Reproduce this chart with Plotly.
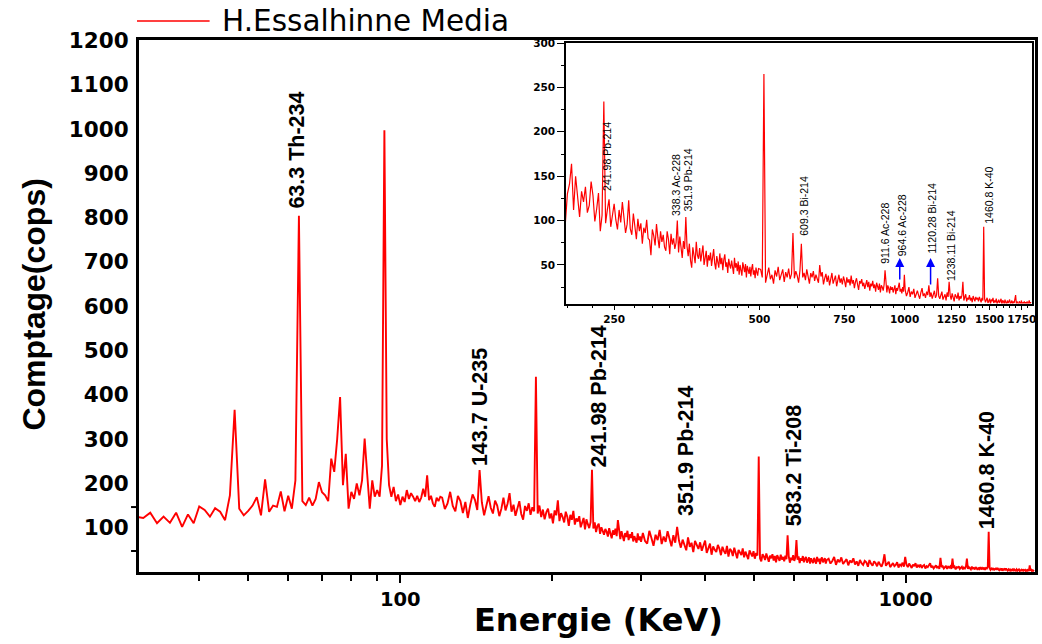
import numpy as np
import plotly.graph_objects as go

# ---------------- main spectrum (energy grid in keV, counts) ----------------
e_seg1 = np.arange(30, 121, 1.0)      # 30 .. 120
e_seg2 = np.arange(121, 300, 1.5)     # 121 .. 299.5
e_seg3 = np.arange(302, 699, 3.0)     # 302 .. 698
e_seg4 = np.arange(704, 1799, 6.0)    # 704 .. 1796

c_seg1 = [125,122,134,110,125,111,134,102,130,110,
          148,140,125,144,136,117,173,366,143,128,
          138,150,169,128,209,136,150,147,182,137,
          172,143,207,804,160,151,168,150,165,203,
          180,173,160,256,226,300,395,196,267,143,
          181,165,200,173,207,301,220,143,207,170,
          185,170,240,997,300,196,170,192,160,175,
          151,170,158,185,165,178,170,160,172,158,
          168,188,170,218,162,172,155,147,168,160,170]

c_seg2 = [168,142,155,181,149,137,172,160,133,158,
          122,151,175,163,140,230,157,128,149,171,
          145,132,161,150,126,143,168,139,154,178,
          136,152,127,145,160,131,118,149,138,155,
          129,146,137,441,132,150,124,141,119,135,
          143,121,132,110,139,128,162,115,133,124,
          112,136,125,104,129,118,138,107,121,114,
          126,101,115,122,96,119,108,99,113,231,
          98,112,90,104,109,86,101,93,84,97,
          91,80,99,87,76,94,84,98,81,117,
          86,74,92,83,70,88,79,93,72,85,
          77,90,69,81,74,66,87,72,80,68]

c_seg3 = [88,70,64,93,77,59,84,72,95,63,
          80,68,92,74,58,83,66,102,71,55,
          73,61,49,78,57,66,45,70,59,52,
          67,48,60,71,43,56,64,39,58,50,
          45,61,53,38,57,47,41,59,35,52,
          48,36,55,43,31,50,45,38,53,33,
          46,39,29,49,41,35,47,30,43,37,
          261,31,24,40,35,27,42,33,23,37,
          31,40,26,36,22,38,33,25,39,28,
          34,24,37,29,83,36,21,32,27,38,
          25,33,72,28,35,20,31,26,36,22,
          30,34,21,28,33,19,31,25,20,32,
          27,19,34,24,30,18,29,33,22,26,
          31,19,27]

c_seg4 = [30,19,25,34,16,28,22,33,18,24,
          29,15,26,21,31,17,24,14,27,20,
          16,25,22,12,27,19,14,24,20,13,
          23,17,12,21,40,14,19,23,11,17,
          20,13,16,22,10,18,14,21,12,34,
          16,11,19,14,9,17,13,20,10,15,
          12,17,9,14,16,8,13,11,15,20,
          10,14,8,12,15,9,13,7,32,11,
          13,8,11,14,7,12,10,13,7,30,
          9,12,6,11,10,13,7,9,12,6,
          10,8,12,30,7,11,9,6,12,8,
          9,6,11,8,5,10,7,11,6,9,
          7,10,5,9,8,12,91,9,5,8,
          6,9,4,7,8,5,9,6,4,7,
          5,8,3,6,7,4,8,5,3,6,
          4,7,3,5,6,2,6,4,3,6,
          3,5,6,2,4,5,2,6,3,4,
          5,2,4,3,6,2,15,3,5,2,
          4,3,2]

# ---------------- inset spectrum ----------------
i_seg1 = np.arange(196, 500, 2.0)     # 196 .. 498
i_seg2 = np.arange(503, 1000, 4.0)    # 503 .. 999
i_seg3 = np.arange(1003, 1832, 6.0)   # 1003 .. 1831

ic_seg1 = [118,96,130,141,164,112,150,126,104,133,
           121,138,109,117,144,128,99,113,131,88,
           106,234,97,112,124,93,108,119,101,90,
           112,98,121,104,86,96,123,91,84,108,
           95,79,102,88,97,74,92,86,101,80,
           78,61,90,83,72,96,81,69,88,76,
           84,70,66,88,79,62,85,73,80,68,
           75,100,64,82,70,58,77,68,104,71,
           60,74,55,47,70,63,52,76,61,57,
           69,54,63,72,50,58,66,48,61,55,
           64,49,57,68,52,45,60,55,47,63,
           51,58,44,56,62,48,53,41,57,50,
           46,55,49,40,58,47,52,43,54,39,
           50,45,38,53,47,42,51,36,49,44,
           40,48,37,46,51,39,44,35,47,42,
           38,46]

ic_seg2 = [45,36,265,30,41,47,34,39,29,44,
           37,48,33,40,45,31,42,36,46,34,
           40,86,35,43,38,30,44,74,36,41,
           33,45,38,29,41,36,43,32,39,35,
           30,50,37,42,28,35,40,31,38,27,
           36,41,29,34,38,26,33,39,30,35,
           28,37,32,25,36,30,34,27,38,29,
           33,24,31,35,28,22,32,29,34,26,
           30,23,28,33,25,31,21,29,26,32,
           24,28,20,30,26,22,29,19,27,25,
           21,28,44,23,19,27,24,18,26,22,
           25,19,23,27,17,24,21,26,30,20,
           23,18,25,20,39]

ic_seg3 = [22,15,19,25,14,20,17,23,13,18,
           21,16,12,19,24,15,18,13,20,16,
           27,14,19,12,17,21,13,16,35,15,
           12,18,20,11,15,17,10,19,14,31,
           16,11,18,13,9,17,14,12,19,10,
           15,12,16,31,10,14,17,9,13,11,
           16,10,13,8,15,12,9,14,11,13,
           9,14,11,8,13,10,93,12,8,11,
           13,7,10,12,6,11,9,13,7,10,
           8,12,6,10,11,7,9,12,5,10,
           9,6,11,8,5,10,7,9,11,6,
           8,10,5,9,7,11,16,6,9,7,
           5,9,8,6,10,4,8,7,9,5,
           8,6,9,5,7,10,6,8,7]

# ---------------- labels ----------------
main_y_ticks = [100,200,300,400,500,600,700,800,900,1000,1100,1200]
main_x_ticks = [100, 1000]
main_x_minor = [30,40,50,60,70,80,90,200,300,400,500,600,700,800,900]
inset_x_ticks = [250,500,750,1000,1250,1500,1750]
inset_x_minor = [200,225,275,300,325,350,375,400,425,450,475,
                 550,600,650,700,800,850,900,950,1050,1100,1150,1200,
                 1300,1350,1400,1450,1550,1600,1650,1700,1800]
inset_y_ticks = [50,100,150,200,250,300]
inset_y_minor = [25,75,125,175,225,275]

main_labels = ["63.3 Th-234","143.7 U-235","241.98 Pb-214","351.9 Pb-214","583.2 Ti-208","1460.8 K-40"]
inset_labels = ["241.98 Pb-214","338.3 Ac-228","351.9 Pb-214","609.3 Bi-214","911.6 Ac-228",
                "964.6 Ac-228","1120.28 Bi-214","1238.11 Bi-214","1460.8 K-40"]
legend_name = "H.Essalhinne Media"

energy = np.concatenate([e_seg1, e_seg2, e_seg3, e_seg4])
counts = np.concatenate([c_seg1, c_seg2, c_seg3, c_seg4])
i_energy = np.concatenate([i_seg1, i_seg2, i_seg3])
i_counts = np.concatenate([ic_seg1, ic_seg2, ic_seg3])

RED = "#ff0000"
W, H = 1042, 644
L, R, T, B = 139, 2, 40, 72
PW, PH = W - L - R, H - T - B

def px(x):
    return (x - L) / PW

def py(y):
    return (H - B - y) / PH

fig = go.Figure()
fig.add_trace(go.Scatter(x=energy, y=counts, mode="lines", name=legend_name,
                         line=dict(color=RED, width=1.9), xaxis="x", yaxis="y",
                         showlegend=False))
fig.add_trace(go.Scatter(x=i_energy, y=i_counts, mode="lines",
                         line=dict(color=RED, width=1.2), xaxis="x2", yaxis="y2",
                         showlegend=False))

bold_wide = dict(family="DejaVu Sans", color="black", weight="bold")
ARIAL = "Liberation Sans, Arial, sans-serif"

fig.update_layout(
    width=W, height=644,
    margin=dict(l=L, r=R, t=T, b=B),
    paper_bgcolor="white", plot_bgcolor="white",
    xaxis=dict(type="log", range=[np.log10(30.4), np.log10(1803)],
               showline=True, linecolor="black", linewidth=3, mirror=True,
               ticks="outside", ticklen=8, tickwidth=2, tickcolor="black",
               tickvals=main_x_ticks, ticktext=[str(v) for v in main_x_ticks],
               minor=dict(tickvals=main_x_minor, ticks="outside", ticklen=6,
                          tickwidth=2, tickcolor="black", showgrid=False),
               tickfont=dict(size=19.5, **bold_wide),
               showgrid=False, zeroline=False),
    yaxis=dict(range=[0, 1201], showline=True, linecolor="black", linewidth=3,
               mirror=True, ticks="", tickvals=main_y_ticks,
               ticktext=[str(v) for v in main_y_ticks], ticklabelstandoff=3,
               tickfont=dict(size=21.5, **bold_wide),
               showgrid=False, zeroline=False),
    xaxis2=dict(type="log", domain=[px(568.3), px(1036.5)], anchor="y2",
                range=[np.log10(198.6), np.log10(1833)],
                showline=True, linecolor="black", linewidth=1.5, mirror=True,
                ticks="outside", ticklen=5, tickwidth=1, tickcolor="black",
                tickvals=inset_x_ticks, ticktext=[str(v) for v in inset_x_ticks],
                minor=dict(tickvals=inset_x_minor, ticks="outside", ticklen=3,
                           tickwidth=1, tickcolor="black", showgrid=False),
                tickfont=dict(size=10.5, **bold_wide),
                showgrid=False, zeroline=False),
    yaxis2=dict(domain=[py(303.5), py(42.5)], anchor="x2", range=[6.6, 300.6],
                showline=True, linecolor="black", linewidth=1.5, mirror=True,
                ticks="outside", ticklen=7, tickwidth=1, tickcolor="black",
                tickvals=inset_y_ticks, ticktext=[str(v) for v in inset_y_ticks],
                minor=dict(tickvals=inset_y_minor, ticks="outside", ticklen=3.5,
                           tickwidth=1, tickcolor="black", showgrid=False),
                tickfont=dict(size=10.5, **bold_wide),
                showgrid=False, zeroline=False),
)

# legend drawn manually (long line sample)
fig.add_shape(type="line", xref="paper", yref="paper",
              x0=px(137), x1=px(210), y0=py(21), y1=py(21),
              line=dict(color=RED, width=1.6))
fig.add_annotation(xref="paper", yref="paper", x=px(220), y=py(21),
                   xanchor="left", yanchor="middle", showarrow=False,
                   text=legend_name, font=dict(family="DejaVu Sans", size=29.5, color="black"))

# lonely y tick marks of the main axis
for yv in [146.6, 47.4]:
    fig.add_shape(type="line", xref="paper", yref="y", x0=px(131), x1=px(138),
                  y0=yv, y1=yv, line=dict(color="black", width=2))

# axis titles
fig.add_annotation(xref="paper", yref="paper", x=px(33), y=py(305),
                   xanchor="center", yanchor="middle", showarrow=False, textangle=-90,
                   text="Comptage(cops)",
                   font=dict(family=ARIAL, size=32, color="black", weight="bold"))
fig.add_annotation(xref="paper", yref="paper", x=px(601), y=py(620),
                   xanchor="center", yanchor="middle", showarrow=False,
                   text="Energie (KeV)",
                   font=dict(family="DejaVu Sans", size=32, color="black", weight="bold"))

# main peak labels (center x px, bottom y px)
main_pos = [(297, 210), (482, 467), (602, 468), (689, 517), (798, 527), (992, 530)]
for txt, (xx, yy) in zip(main_labels, main_pos):
    fig.add_annotation(xref="paper", yref="paper", x=px(xx), y=py(yy),
                       xanchor="center", yanchor="bottom", showarrow=False,
                       textangle=-90, text=txt, borderpad=0,
                       font=dict(family=ARIAL, size=21.5, color="black", weight="bold"))

# inset peak labels
inset_pos = [(609, 192), (679, 217), (691, 212), (807.5, 237), (888.5, 265),
             (906.5, 257), (935.5, 255), (955, 282), (993, 225)]
for txt, (xx, yy) in zip(inset_labels, inset_pos):
    fig.add_annotation(xref="paper", yref="paper", x=px(xx), y=py(yy),
                       xanchor="center", yanchor="bottom", showarrow=False,
                       textangle=-90, text=txt, borderpad=0,
                       font=dict(family=ARIAL, size=10.5, color="black"))

# blue arrows in the inset
for xx, ytip, ytail in [(904, 258, 281), (935, 258, 286)]:
    fig.add_annotation(xref="paper", yref="paper", x=px(xx), y=py(ytip),
                       ax=0, ay=ytail - ytip, text="", showarrow=True,
                       arrowhead=2, arrowsize=1.2, arrowwidth=1.5, arrowcolor="#0000ff")

fig.write_html("out.html")
